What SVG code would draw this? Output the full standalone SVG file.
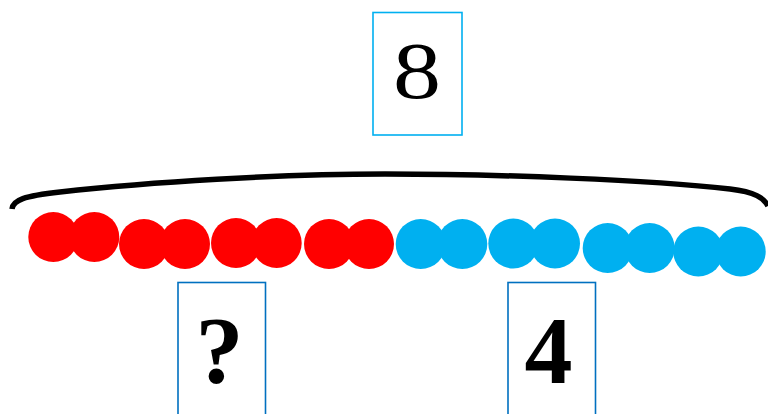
<svg xmlns="http://www.w3.org/2000/svg" width="768" height="414" viewBox="0 0 768 414">
<style>
.box{fill:#fff;stroke-width:1.6}
.red{fill:#FF0000}
.blue{fill:#00B0F0}
.num{font-family:"Liberation Serif","Times New Roman",serif;text-anchor:middle;fill:#000}
</style>
<rect width="768" height="414" fill="#fff"/>
<g id="connectors">
<path d="M 12 209 C 13 200, 24 196, 60 192 C 150 182, 280 174, 385 174 C 500 174, 650 180, 730 189 C 755 192, 764 198, 768 206" fill="none" stroke="#000" stroke-width="5.5"/>
</g>
<g id="beads">
<circle class="red" cx="53.3" cy="237" r="25"/>
<circle class="red" cx="94.3" cy="237" r="25"/>
<circle class="red" cx="144" cy="244" r="25"/>
<circle class="red" cx="185" cy="244" r="25"/>
<circle class="red" cx="236" cy="243" r="25"/>
<circle class="red" cx="276.7" cy="243" r="25"/>
<circle class="red" cx="329" cy="244" r="25"/>
<circle class="red" cx="369" cy="244" r="25"/>
<circle class="blue" cx="420.7" cy="244" r="25"/>
<circle class="blue" cx="462.3" cy="244" r="25"/>
<circle class="blue" cx="513.3" cy="243.5" r="25"/>
<circle class="blue" cx="555" cy="243.5" r="25"/>
<circle class="blue" cx="607.7" cy="248" r="25"/>
<circle class="blue" cx="649.7" cy="248" r="25"/>
<circle class="blue" cx="698.3" cy="251.5" r="25"/>
<circle class="blue" cx="740.7" cy="251.5" r="25"/>
</g>
<g id="total">
<rect class="box" x="373" y="12.5" width="89" height="122.5" stroke="#00B0F0"/>
<text class="num" x="0" y="0" font-size="80" transform="translate(417 98) scale(1.2 1)">8</text>
</g>
<g id="part-unknown">
<rect class="box" x="178" y="282.5" width="87.5" height="140" stroke="#0070C0"/>
<text class="num" x="219.5" y="382.5" font-size="96" font-weight="bold">?</text>
</g>
<g id="part-four">
<rect class="box" x="508" y="282.5" width="87.5" height="140" stroke="#0070C0"/>
<text class="num" x="548.5" y="382.5" font-size="96" font-weight="bold">4</text>
</g>
</svg>
